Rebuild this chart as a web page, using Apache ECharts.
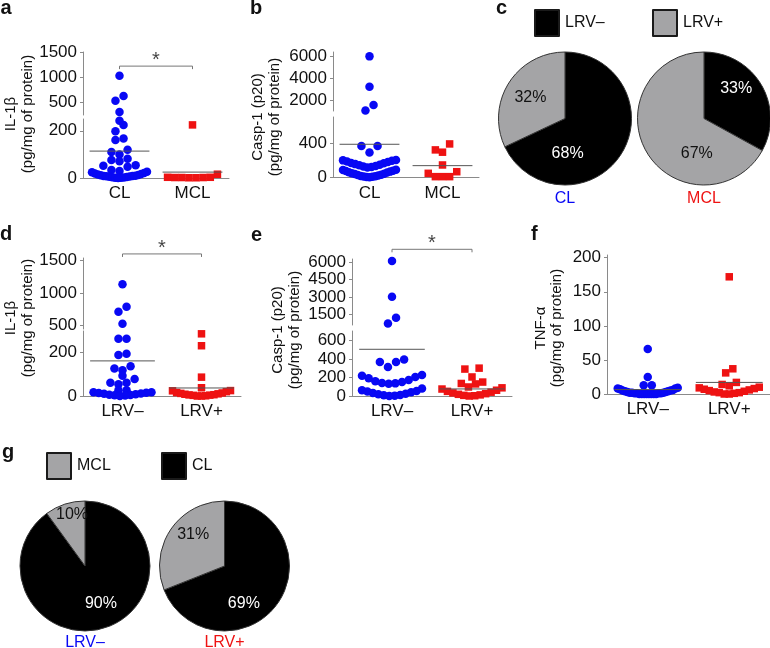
<!DOCTYPE html>
<html><head><meta charset="utf-8">
<script src="https://cdn.jsdelivr.net/npm/echarts@6/dist/echarts.min.js"></script>
<style>html,body{margin:0;padding:0;background:#fff}#c{width:770px;height:648px}</style>
</head><body><div id="c"></div>
<script>
// ---------------- DATA ----------------
const catsDisease = ['CL', 'MCL'];
const catsLRV = ['LRV–', 'LRV+'];

// a: IL-1β (pg/mg of protein) by disease
const aCL = [1030, 627, 534, 310, 243, 225, 198, 167, 161, 120, 110, 100, 82, 76, 71, 54, 52, 48, 34, 30,
  26, 24, 21, 19, 17, 15, 13, 12, 10, 9, 8, 7, 6, 5, 4, 3, 2, 1, 1, 0];
const aMCL = [225, 16, 3, 3, 2, 2, 2, 1, 1];
const aMeans = [114, 25];
const aTicksLow = [0, 200];
const aTicksUp = [500, 1000, 1500];

// b: Casp-1 (p20) by disease
const bCL = [6000, 3220, 1550, 1050, 370, 370, 292, 205, 201, 196, 188, 183, 171, 166, 157, 150, 144, 135, 128, 122, 116,
  92, 88, 80, 77, 69, 62, 58, 51, 44, 40, 33, 29, 24, 18, 15, 11, 8, 5, 3];
const bMCL = [394, 324, 297, 147, 68, 49, 10, 10, 10];
const bMeans = [390, 139];
const bTicksLow = [0, 400];
const bTicksUp = [2000, 4000, 6000];

// c: LRV status within disease (%)
const cNames = ['LRV–', 'LRV+'];
const cCL = [68, 32];
const cMCL = [33, 67];

// d: IL-1β by LRV status
const dNeg = [1133, 785, 707, 520, 264, 264, 195, 189, 137, 127, 119, 93, 79, 61, 61, 54, 27, 27, 17, 17,
  15, 14, 12, 10, 8, 6, 5, 3, 2, 0];
const dPos = [287, 232, 87, 38, 25, 24, 20, 16, 14, 12, 10, 8, 6, 5, 4, 3, 1, 0, 0];
const dMeans = [162, 37];
const dTicksLow = [0, 200];
const dTicksUp = [500, 1000, 1500];

// e: Casp-1 (p20) by LRV status
const eNeg = [6080, 3010, 1220, 720, 392, 366, 366, 312, 225, 218, 205, 190, 172, 160, 150, 141, 136, 133,
  80, 61, 55, 48, 40, 33, 25, 18, 12, 8, 4, 0];
const ePos = [300, 290, 205, 150, 135, 130, 97, 88, 75, 62, 50, 41, 33, 25, 18, 12, 7, 3, 0];
const eMeans = [503, 76];
const eTicksLow = [0, 200, 400, 600];
const eTicksUp = [1500, 3000, 4500, 6000];

// f: TNF-α by LRV status
const fNeg = [66, 25, 13, 13, 9, 8, 8, 7, 6, 5, 5, 4, 4, 3, 3, 2, 2, 2, 1, 1, 1, 1, 0, 0, 0, 0, 0, 0, 0, 0];
const fPos = [172, 37, 31, 17, 14, 12, 10, 9, 8, 7, 6, 5, 4, 3, 2, 2, 1, 0, 0];
const fMeans = [6.5, 17];
const fTicks = [0, 50, 100, 150, 200];

// g: disease within LRV status (%)
const gNames = ['CL', 'MCL'];
const gNeg = [90, 10];
const gPos = [69, 31];

// ---------------- STYLE / LAYOUT ----------------
const FONT = '"Liberation Sans", Arial, Helvetica, sans-serif';
const BLUE = '#0808f4', RED = '#ee1212', AX = '#8a8a8a', TXT = '#111', BLACK = '#000', GRAY = '#a4a4a6';
const CIRCLE = 8.5, SQUARE = 7.5;

const panels = [
  {left: 83, width: 146, rowH: 6.5, maxW: 55,
   up: {top: 52, h: 63, min: 250, max: 1500, ticks: aTicksUp},
   low: {top: 119, h: 59, min: 0, max: 250, ticks: aTicksLow},
   cats: catsDisease, groups: [aCL, aMCL], means: aMeans, bracket: {v: 1220, dv: 60}},
  {left: 333, width: 146, rowH: 8.5, maxW: 53,
   up: {top: 52, h: 59, min: 1000, max: 6400, ticks: bTicksUp},
   low: {top: 117, h: 60.5, min: 0, max: 710, ticks: bTicksLow},
   cats: catsDisease, groups: [bCL, bMCL], means: bMeans},
  {left: 83, width: 158, rowH: 5.5, maxW: 58,
   up: {top: 258, h: 71, min: 440, max: 1540, ticks: dTicksUp},
   low: {top: 331, h: 65, min: 0, max: 300, ticks: dTicksLow},
   cats: catsLRV, groups: [dNeg, dPos], means: dMeans, bracket: {v: 1603, dv: 47}},
  {left: 352, width: 160, rowH: 9, maxW: 60,
   up: {top: 259, h: 66, min: 600, max: 6250, ticks: eTicksUp},
   low: {top: 331, h: 65, min: 0, max: 700, ticks: eTicksLow},
   cats: catsLRV, groups: [eNeg, ePos], means: eMeans, bracket: {v: 7080, dv: 257}},
  {left: 607, width: 163, rowH: 8, maxW: 60,
   low: {top: 255, h: 139, min: 0, max: 204, ticks: fTicks},
   cats: catsLRV, groups: [fNeg, fPos], means: fMeans}
];

function segOf(p, v) { return (p.up && v > p.low.max) ? p.up : p.low; }
function yPx(p, v) { const s = segOf(p, v); return s.top + s.h - (v - s.min) / (s.max - s.min) * s.h; }

// Prism-like scatter layout: rows of similar values, centred, lowest values in the middle
function swarm(vals, p, d) {
  const pxPerUnit = p.width / 2;
  const idx = vals.map((v, i) => i).sort((i, j) => vals[i] - vals[j]);
  const offs = new Array(vals.length).fill(0);
  let k = 0;
  while (k < idx.length) {
    const y0 = yPx(p, vals[idx[k]]);
    const row = [];
    while (k < idx.length && y0 - yPx(p, vals[idx[k]]) <= p.rowH) { row.push(idx[k]); k++; }
    const n = row.length;
    const sp = n > 1 ? Math.min(d * 0.95, p.maxW / (n - 1)) : 0;
    const pos = [];
    for (let j = 0; j < n; j++) pos.push((j - (n - 1) / 2) * sp);
    pos.sort((a, b) => Math.abs(a) - Math.abs(b) || a - b);
    row.forEach((ii, j) => { offs[ii] = pos[j] / pxPerUnit; });
  }
  return offs;
}

const grids = [], xAxes = [], yAxes = [], series = [];

panels.forEach(p => {
  const segs = p.up ? ['low', 'up'] : ['low'];
  const gi = {};
  segs.forEach(s => {
    const seg = p[s];
    const g = grids.length;
    grids.push({left: p.left, top: seg.top, width: p.width, height: seg.h, containLabel: false, outerBoundsMode: 'none'});
    xAxes.push({gridIndex: g, type: 'value', min: 0.5, max: 2.5, show: s === 'low',
      axisLine: {show: true, onZero: false, lineStyle: {color: AX, width: 1}},
      axisTick: {show: false}, splitLine: {show: false},
      axisLabel: {customValues: [1, 2], margin: 7, formatter: v => p.cats[Math.round(v) - 1],
        color: TXT, fontSize: 17, fontFamily: FONT}});
    yAxes.push({gridIndex: g, type: 'value', min: seg.min, max: seg.max,
      axisLine: {show: true, onZero: false, lineStyle: {color: AX, width: 1}},
      axisTick: {show: true, customValues: seg.ticks, length: 3, lineStyle: {color: AX}},
      splitLine: {show: false},
      axisLabel: {customValues: seg.ticks, margin: 6, formatter: v => String(v),
        color: TXT, fontSize: 17, fontFamily: FONT}});
    gi[s] = g;
  });
  p.groups.forEach((vals, gIdx) => {
    const size = gIdx ? SQUARE : CIRCLE;
    const offs = swarm(vals, p, size);
    segs.forEach(s => {
      const pts = [];
      vals.forEach((v, i) => { if (segOf(p, v) === p[s]) pts.push([gIdx + 1 + offs[i], v]); });
      series.push({type: 'scatter', xAxisIndex: gi[s], yAxisIndex: gi[s], data: pts,
        symbol: gIdx ? 'rect' : 'circle', symbolSize: size,
        itemStyle: {color: gIdx ? RED : BLUE, opacity: 1, borderWidth: 0}, clip: false, silent: true, z: 2});
    });
  });
  p.means.forEach((m, gIdx) => {
    series.push({type: 'line', xAxisIndex: gi.low, yAxisIndex: gi.low,
      data: [[gIdx + 1 - 0.41, m], [gIdx + 1 + 0.41, m]], symbol: 'none', showSymbol: false,
      lineStyle: {color: '#555', width: 1}, clip: false, silent: true, z: 3});
  });
  if (p.bracket) {
    const g = gi.up, v = p.bracket.v, dv = p.bracket.dv;
    series.push({type: 'line', xAxisIndex: g, yAxisIndex: g,
      data: [[1, v - dv], [1, v], [2, v], [2, v - dv]], symbol: 'none', showSymbol: false,
      lineStyle: {color: '#777', width: 1}, clip: false, silent: true});
    series.push({type: 'scatter', xAxisIndex: g, yAxisIndex: g, data: [[1.5, v]], symbolSize: 1,
      itemStyle: {color: 'rgba(0,0,0,0)'}, clip: false, silent: true,
      label: {show: true, formatter: '*', position: 'top', distance: -5, color: TXT, fontSize: 20, fontFamily: FONT}});
  }
});

function pie(center, r, names, vals, shifts) {
  const cols = [BLACK, GRAY];
  return {type: 'pie', center: center, radius: r, startAngle: 90, clockwise: true, silent: true,
    avoidLabelOverlap: false, emphasis: {disabled: true},
    itemStyle: {borderColor: '#333', borderWidth: 1},
    label: {show: true, position: 'inside', formatter: '{c}%', fontSize: 16, fontFamily: FONT},
    labelLine: {show: false},
    labelLayout: prm => ({dx: shifts[prm.dataIndex][0], dy: shifts[prm.dataIndex][1]}),
    data: names.map((n, i) => ({name: n, value: vals[i], itemStyle: {color: cols[i]},
      label: {color: i ? '#111' : '#fff'}}))};
}
series.push(pie([565, 118.5], 66.5, cNames, cCL, [[-28, 16], [-4, -1]]));
series.push(pie([704, 118.5], 66.5, cNames, cMCL, [[1, -11], [24, 17]]));
series.push(pie([85, 566], 65, gNames, gNeg, [[5, 4], [-2, -18]]));
series.push(pie([224.5, 566], 65, gNames, gPos, [[-10, 18], [-2, -11]]));

function legendItem(name, left, top) {
  return {data: [name], left: left, top: top, padding: 0, itemWidth: 24, itemHeight: 26, icon: 'rect',
    selectedMode: false, itemGap: 0,
    itemStyle: {borderColor: '#1a1a1a', borderWidth: 2},
    textStyle: {color: TXT, fontSize: 16, fontFamily: FONT, padding: [0, 0, 0, 1]}};
}

function txt(x, y, text, font, color, rot) {
  return {type: 'text', x: x, y: y, rotation: rot || 0, silent: true,
    style: {text: text, font: font, fill: color || TXT, align: rot ? 'center' : 'left', verticalAlign: 'middle', lineHeight: 16.5}};
}
const LET = 'bold 20px ' + FONT, TIT = '15px ' + FONT;
const graphics = [
  txt(0.5, 8, 'a', LET), txt(250, 8, 'b', LET), txt(496, 8, 'c', LET),
  txt(0, 234.7, 'd', LET), txt(251, 235.3, 'e', LET), txt(531, 234.7, 'f', LET), txt(2, 452.3, 'g', LET),
  txt(19.3, 114, 'IL-1β\n(pg/mg of protein)', TIT, TXT, Math.PI / 2),
  txt(266.5, 117, 'Casp-1 (p20)\n(pg/mg of protein)', TIT, TXT, Math.PI / 2),
  txt(19.5, 318, 'IL-1β\n(pg/mg of protein)', TIT, TXT, Math.PI / 2),
  txt(286.5, 330, 'Casp-1 (p20)\n(pg/mg of protein)', TIT, TXT, Math.PI / 2),
  txt(549, 328, 'TNF-α\n(pg/mg of protein)', TIT, TXT, Math.PI / 2)
];
[[565, 198.5, 'CL', BLUE], [704, 198.5, 'MCL', RED], [85, 642.5, 'LRV–', BLUE], [224.5, 642.5, 'LRV+', RED]]
  .forEach(c => graphics.push({type: 'text', x: c[0], y: c[1], silent: true,
    style: {text: c[2], font: '16px ' + FONT, fill: c[3], align: 'center', verticalAlign: 'middle'}}));

const chart = echarts.init(document.getElementById('c'), null, {renderer: 'canvas'});
chart.setOption({
  animation: false,
  backgroundColor: '#fff',
  grid: grids, xAxis: xAxes, yAxis: yAxes, series: series,
  legend: [legendItem('LRV–', 534, 9), legendItem('LRV+', 652, 9), legendItem('MCL', 46, 452), legendItem('CL', 161, 452)],
  graphic: graphics,
  tooltip: {show: false}
});
</script></body></html>
